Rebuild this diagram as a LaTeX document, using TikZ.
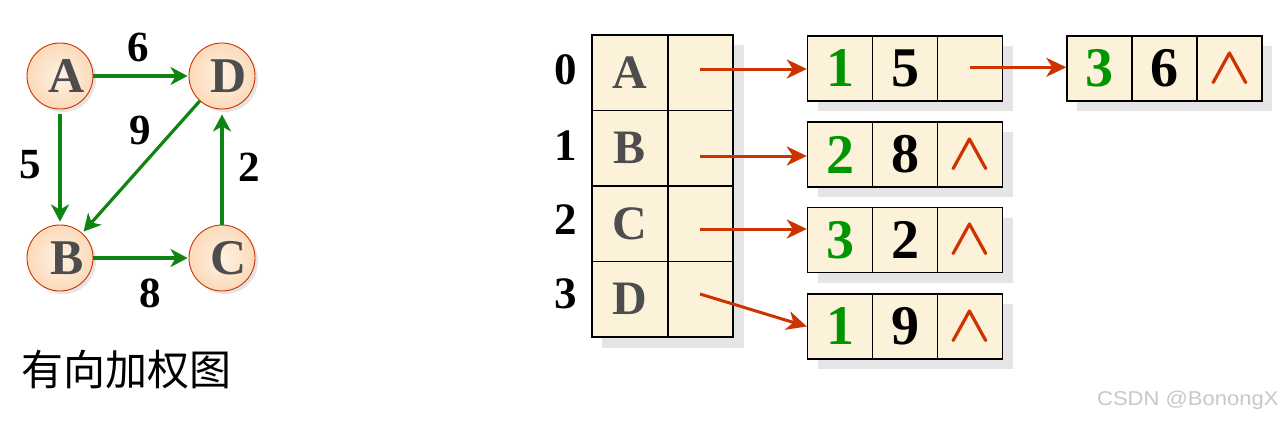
\documentclass[tikz,border=0pt]{standalone}
\usepackage{fontspec}
\setmainfont{Liberation Serif}
\newfontfamily\cjk{Noto Sans CJK SC}
\newfontfamily\lsans{Liberation Sans}
\usetikzlibrary{arrows.meta,shadings}
\definecolor{paper}{RGB}{252,242,218}
\definecolor{edgegreen}{RGB}{16,132,16}
\definecolor{numgreen}{RGB}{0,150,0}
\definecolor{ptrred}{RGB}{204,51,0}
\definecolor{lettergray}{RGB}{77,77,77}
\definecolor{shadowgray}{RGB}{229,229,229}
\definecolor{circfill}{RGB}{251,218,186}
\definecolor{circin}{RGB}{255,242,226}
\definecolor{wmgray}{RGB}{200,200,200}
\newcommand{\vtx}[1]{\hspace*{14pt}\raisebox{-3pt}{#1}}
\newcommand{\nilsym}{\scalebox{2.25}[2.1]{\boldmath$\wedge$}}
\begin{document}
\begin{tikzpicture}[x=1pt,y=-1pt,
 vertex/.style={circle, draw=ptrred, line width=0.9pt, minimum size=66pt, inner sep=0pt, inner color=circin, outer color=circfill, font=\fontsize{50}{50}\selectfont\bfseries, text=lettergray},
 gedge/.style={draw=edgegreen, line width=3.2pt, -{Stealth[length=17pt,width=18pt,inset=5pt]}},
 wlabel/.style={font=\fontsize{43}{43}\selectfont\bfseries},
 idxlabel/.style={font=\fontsize{45}{45}\selectfont\bfseries},
 tcell/.style={draw=black, line width=1.3pt, fill=paper, inner sep=0pt, minimum height=75.5pt},
 lcell/.style={draw=black, line width=1.4pt, fill=paper, inner sep=0pt, minimum width=65pt, minimum height=65pt, font=\fontsize{56}{56}\selectfont\bfseries},
 greennum/.style={text=numgreen},
 nilmark/.style={text=ptrred, font=\fontsize{24.88}{25}\selectfont},
 ptr/.style={draw=ptrred, line width=3pt, -{Stealth[length=20pt,width=19pt,inset=6pt]}},
]
\useasboundingbox[fill=white] (0,0) rectangle (1286,421);

% ---- graph ----
\foreach \p in {(60,76),(222,76),(60,258),(222,258)}
  \fill[shadowgray] \p ++(3,3) circle (33);
\node[vertex] (A) at (60,76) {\vtx{A}};
\node[vertex] (D) at (222,76) {\vtx{D}};
\node[vertex] (B) at (60,258) {\vtx{B}};
\node[vertex] (C) at (222,258) {\vtx{C}};
\draw[gedge, shorten >=1pt] (A) -- (D);
\draw[gedge, shorten <=5pt, shorten >=3pt] (A) -- (B);
\draw[gedge, shorten >=2pt] (D) -- (B);
\draw[gedge, shorten >=5pt] (C) -- (D);
\draw[gedge, shorten >=1pt] (B) -- (C);
\node[wlabel] (w6) at (138,47) {6};
\node[wlabel] (w5) at (30,165) {5};
\node[wlabel] (w9) at (140,130) {9};
\node[wlabel] (w2) at (249,167) {2};
\node[wlabel] (w8) at (150,293) {8};
\node[font=\cjk\fontsize{42}{42}\selectfont, anchor=west] (cap) at (18,370) {有向加权图};

% ---- table ----
\fill[shadowgray] (602,45) rectangle (744,348);
\foreach \i/\l/\y in {0/A/72.75,1/B/148.25,2/C/223.75,3/D/299.25}{
  \node[tcell, minimum width=76pt, font=\fontsize{48}{48}\selectfont\bfseries, text=lettergray] (v\i) at (630,\y) {\l};
  \node[tcell, minimum width=65pt] (p\i) at (700.5,\y) {};
}
\node[idxlabel] (i0) at (566,70) {0};
\node[idxlabel] (i1) at (566,146) {1};
\node[idxlabel] (i2) at (566,220) {2};
\node[idxlabel] (i3) at (566,294) {3};

% ---- lists ----
\foreach \y in {68.5,154.5,240,326.5}
  \fill[shadowgray] (817.5,\y-22.5) rectangle (1012.5,\y+42.5);
\fill[shadowgray] (1077,46) rectangle (1272,111);

\node[lcell, greennum] (l0a) at (840,68.5) {1};
\node[lcell] (l0b) at (905,68.5) {5};
\node[lcell] (l0c) at (970,68.5) {};
\node[lcell, greennum] (m0a) at (1099.5,68.5) {3};
\node[lcell] (m0b) at (1164.5,68.5) {6};
\node[lcell, nilmark] (m0c) at (1229.5,68.5) {\nilsym};

\node[lcell, greennum] (l1a) at (840,154.5) {2};
\node[lcell] (l1b) at (905,154.5) {8};
\node[lcell, nilmark] (l1c) at (970,154.5) {\nilsym};

\node[lcell, greennum] (l2a) at (840,240) {3};
\node[lcell] (l2b) at (905,240) {2};
\node[lcell, nilmark] (l2c) at (970,240) {\nilsym};

\node[lcell, greennum] (l3a) at (840,326.5) {1};
\node[lcell] (l3b) at (905,326.5) {9};
\node[lcell, nilmark] (l3c) at (970,326.5) {\nilsym};

% ---- pointers ----
\coordinate (s0) at (700,69);
\coordinate (s1) at (700,156);
\coordinate (s2) at (700,229);
\coordinate (s3) at (700,294);
\coordinate (s4) at (970,67.3);
\draw[ptr] (s0) -- (s0 -| l0a.west);
\draw[ptr] (s1) -- (s1 -| l1a.west);
\draw[ptr] (s2) -- (s2 -| l2a.west);
\draw[ptr] (s3) -- (l3a.west);
\draw[ptr] (s4) -- (s4 -| m0a.west);

\node[font=\lsans\fontsize{20}{20}\selectfont, text=wmgray, anchor=east] (wm) at (1282,400) {\scalebox{1.1}[1]{CSDN @BonongX}};
\end{tikzpicture}
\end{document}
